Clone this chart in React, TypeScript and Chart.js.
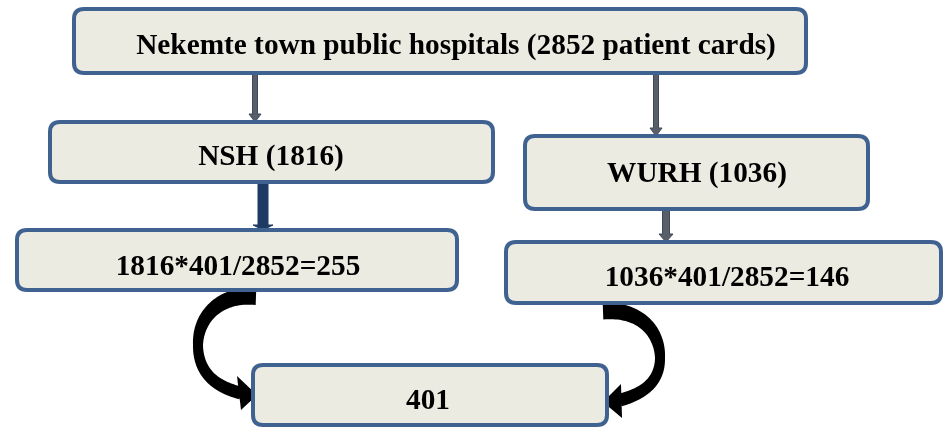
import { useEffect, useRef } from "react";
import { Chart, registerables } from "chart.js";

Chart.register(...registerables);

// ---- data ----
const TOTAL_CARDS = 2852;
const SAMPLE_SIZE = 401;
const hospitals = ["NSH", "WURH"];
const hospitalCards = [1816, 1036];
const allocated = [255, 146];
const sourceLabel = "Nekemte town public hospitals";

// ---- layout (scale units) ----
type Box = { x0: number; y0: number; x1: number; y1: number; tx: number; ty: number };
const LAYOUT: Record<string, Box> = {
  top: { x0: 74, y0: 9, x1: 806, y1: 73, tx: 456, ty: 54 },
  h0: { x0: 50, y0: 122, x1: 493, y1: 182, tx: 271, ty: 165 },
  h1: { x0: 525, y0: 136, x1: 868, y1: 209, tx: 697, ty: 182 },
  c0: { x0: 17, y0: 230, x1: 457, y1: 290, tx: 238, ty: 275 },
  c1: { x0: 506, y0: 242, x1: 941, y1: 303, tx: 727, ty: 286 },
  fin: { x0: 253, y0: 365, x1: 607, y1: 425, tx: 428, ty: 409 },
};

const FONT = "bold 29.3px 'Liberation Serif', 'DejaVu Serif', serif";
const BOX_FILL = "#ecebe1";
const BOX_STROKE = "#3f6291";

type P = [number, number];

function cubic(p0: P, p1: P, p2: P, p3: P, t: number): P {
  const u = 1 - t;
  return [
    u * u * u * p0[0] + 3 * u * u * t * p1[0] + 3 * u * t * t * p2[0] + t * t * t * p3[0],
    u * u * u * p0[1] + 3 * u * u * t * p1[1] + 3 * u * t * t * p2[1] + t * t * t * p3[1],
  ];
}

export default function App() {
  const ref = useRef<HTMLCanvasElement | null>(null);

  useEffect(() => {
    document.body.style.margin = "0";
    const canvas = ref.current;
    if (!canvas) return;

    const flowPlugin = {
      id: "flow",
      afterDraw(chart: any) {
        const ctx: CanvasRenderingContext2D = chart.ctx;
        const xs = chart.scales.x;
        const ys = chart.scales.y;
        const X = (v: number) => xs.getPixelForValue(v);
        const Y = (v: number) => ys.getPixelForValue(v);

        const roundRect = (b: Box, r: number) => {
          const x0 = X(b.x0), x1 = X(b.x1), y0 = Y(b.y0), y1 = Y(b.y1);
          ctx.beginPath();
          ctx.moveTo(x0 + r, y0);
          ctx.lineTo(x1 - r, y0);
          ctx.quadraticCurveTo(x1, y0, x1, y0 + r);
          ctx.lineTo(x1, y1 - r);
          ctx.quadraticCurveTo(x1, y1, x1 - r, y1);
          ctx.lineTo(x0 + r, y1);
          ctx.quadraticCurveTo(x0, y1, x0, y1 - r);
          ctx.lineTo(x0, y0 + r);
          ctx.quadraticCurveTo(x0, y0, x0 + r, y0);
          ctx.closePath();
        };

        const drawBox = (b: Box, text: string) => {
          ctx.save();
          roundRect(b, 10);
          ctx.fillStyle = BOX_FILL;
          ctx.fill();
          ctx.lineWidth = 4;
          ctx.strokeStyle = BOX_STROKE;
          ctx.stroke();
          ctx.fillStyle = "#000";
          ctx.font = FONT;
          ctx.textAlign = "center";
          ctx.textBaseline = "alphabetic";
          ctx.fillText(text, X(b.tx), Y(b.ty));
          ctx.restore();
        };

        const straightArrow = (
          x: number, yStart: number, yEnd: number,
          shaft: number, headW: number, headL: number,
          fill: string, stroke: string
        ) => {
          const cx = X(x), y0 = Y(yStart), y1 = Y(yEnd);
          ctx.save();
          ctx.beginPath();
          ctx.moveTo(cx - shaft / 2, y0);
          ctx.lineTo(cx + shaft / 2, y0);
          ctx.lineTo(cx + shaft / 2, y1 - headL);
          ctx.lineTo(cx + headW / 2, y1 - headL);
          ctx.lineTo(cx, y1);
          ctx.lineTo(cx - headW / 2, y1 - headL);
          ctx.lineTo(cx - shaft / 2, y1 - headL);
          ctx.closePath();
          ctx.fillStyle = fill;
          ctx.fill();
          ctx.lineWidth = 1;
          ctx.strokeStyle = stroke;
          ctx.stroke();
          ctx.restore();
        };

        const ribbon = (segs: P[][], widths: number[], head: P[]) => {
          const pts: P[] = [];
          const ws: number[] = [];
          segs.forEach((s, si) => {
            const n = 40;
            for (let i = si === 0 ? 0 : 1; i <= n; i++) {
              const t = i / n;
              const p = cubic(s[0], s[1], s[2], s[3], t);
              pts.push([X(p[0]), Y(p[1])]);
              ws.push(widths[si] + (widths[si + 1] - widths[si]) * t);
            }
          });
          const left: P[] = [];
          const right: P[] = [];
          for (let i = 0; i < pts.length; i++) {
            const a = pts[Math.max(0, i - 1)];
            const b = pts[Math.min(pts.length - 1, i + 1)];
            let dx = b[0] - a[0], dy = b[1] - a[1];
            const len = Math.hypot(dx, dy) || 1;
            dx /= len; dy /= len;
            const nx = -dy, ny = dx;
            const w = ws[i] / 2;
            left.push([pts[i][0] + nx * w, pts[i][1] + ny * w]);
            right.push([pts[i][0] - nx * w, pts[i][1] - ny * w]);
          }
          ctx.save();
          ctx.fillStyle = "#000";
          ctx.beginPath();
          left.forEach((p, i) => (i === 0 ? ctx.moveTo(p[0], p[1]) : ctx.lineTo(p[0], p[1])));
          for (let i = right.length - 1; i >= 0; i--) ctx.lineTo(right[i][0], right[i][1]);
          ctx.closePath();
          ctx.fill();
          ctx.beginPath();
          head.forEach((p, i) => (i === 0 ? ctx.moveTo(X(p[0]), Y(p[1])) : ctx.lineTo(X(p[0]), Y(p[1]))));
          ctx.closePath();
          ctx.fill();
          ctx.restore();
        };

        // straight connectors
        straightArrow(255, 73, 122, 5, 12, 8, "#5a5e66", "#3b4a62");
        straightArrow(656, 73, 136, 5, 12, 8, "#5a5e66", "#3b4a62");
        straightArrow(263, 182, 230, 10, 20, 5, "#1f3a62", "#1f3a62");
        straightArrow(666, 209, 242, 7, 14, 8, "#5a5e66", "#3b4a62");

        // curved connectors into the final sample box
        ribbon(
          [
            [[256, 296], [218, 294], [198, 318], [198, 345]],
            [[198, 345], [198, 372], [215, 387], [241, 393]],
          ],
          [18, 10, 13],
          [[237, 376], [257, 395], [241, 410]]
        );
        ribbon(
          [
            [[603, 311], [641, 309], [660, 332], [660, 358]],
            [[660, 358], [660, 382], [643, 394], [620, 400]],
          ],
          [17, 10, 13],
          [[621, 384], [603, 402], [622, 418]]
        );

        // boxes
        drawBox(LAYOUT.top, `${sourceLabel} (${TOTAL_CARDS} patient cards)`);
        drawBox(LAYOUT.h0, `${hospitals[0]} (${hospitalCards[0]})`);
        drawBox(LAYOUT.h1, `${hospitals[1]} (${hospitalCards[1]})`);
        drawBox(LAYOUT.c0, `${hospitalCards[0]}*${SAMPLE_SIZE}/${TOTAL_CARDS}=${allocated[0]}`);
        drawBox(LAYOUT.c1, `${hospitalCards[1]}*${SAMPLE_SIZE}/${TOTAL_CARDS}=${allocated[1]}`);
        drawBox(LAYOUT.fin, `${SAMPLE_SIZE}`);
      },
    };

    const chart = new Chart(canvas, {
      type: "scatter",
      data: { datasets: [{ data: [], pointRadius: 0 }] },
      options: {
        animation: false,
        responsive: false,
        devicePixelRatio: 1,
        layout: { padding: 0 },
        plugins: { legend: { display: false }, tooltip: { enabled: false } },
        scales: {
          x: { type: "linear", min: 0, max: 943, display: false },
          y: { type: "linear", min: 0, max: 427, reverse: true, display: false },
        },
      },
      plugins: [flowPlugin],
    });
    return () => chart.destroy();
  }, []);

  return (
    <div style={{ width: 943, height: 427, background: "#fff" }}>
      <canvas ref={ref} width={943} height={427} style={{ display: "block" }} />
    </div>
  );
}
